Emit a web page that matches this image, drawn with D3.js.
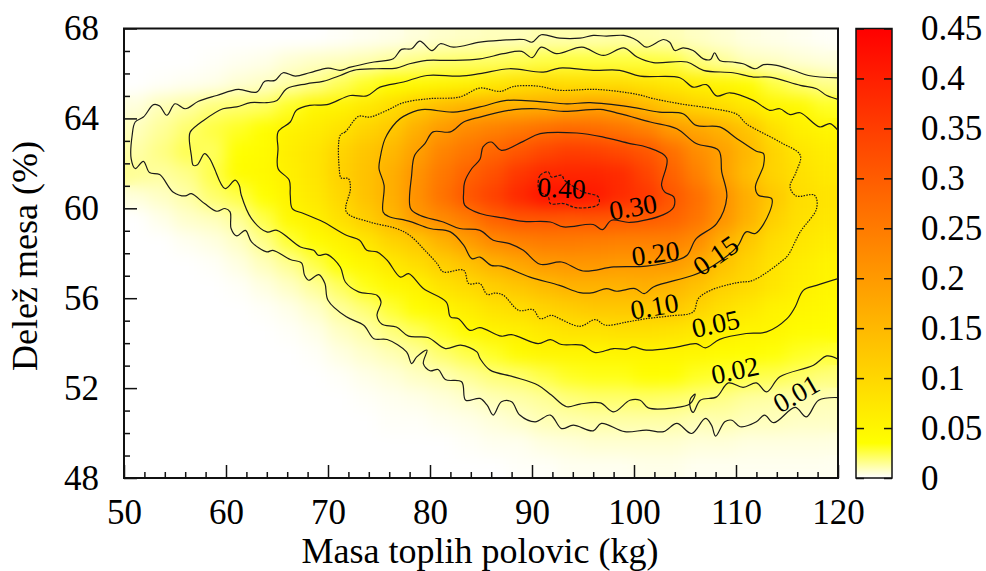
<!DOCTYPE html>
<html>
<head>
<meta charset="utf-8">
<script src="https://cdn.jsdelivr.net/npm/d3@7"></script>
<style>
	html, body { margin: 0; padding: 0; background: #fff; }
	text { font-family: "Liberation Serif", serif; fill: #000; }
	.domain { display: none; }
	.tick line { stroke: #111; stroke-width: 1.5; }
</style>
</head>
<body>
<div id="chart-area"></div>
<script>
// x and y ticks
var massTicks = [50, 60, 70, 80, 90, 100, 110, 120];
var massMinorTicks = [52, 54, 56, 58, 62, 64, 66, 68, 72, 74, 76, 78, 82, 84, 86, 88, 92, 94, 96, 98, 102, 104, 106, 108, 112, 114, 116, 118];
var shareTicks = [48, 52, 56, 60, 64, 68];
var shareMinorTicks = [49, 50, 51, 53, 54, 55, 57, 58, 59, 61, 62, 63, 65, 66, 67];
var densityTicks = [0, 0.05, 0.1, 0.15, 0.2, 0.25, 0.3, 0.35, 0.4, 0.45];

// heatmap, columns are 2.5 kg wide, rows 1 % high
var massCells = [51.25, 53.75, 56.25, 58.75, 61.25, 63.75, 66.25, 68.75, 71.25, 73.75, 76.25, 78.75, 81.25, 83.75, 86.25, 88.75, 91.25, 93.75, 96.25, 98.75, 101.25, 103.75, 106.25, 108.75, 111.25, 113.75, 116.25, 118.75];
var shareCells = [67.5, 66.5, 65.5, 64.5, 63.5, 62.5, 61.5, 60.5, 59.5, 58.5, 57.5, 56.5, 55.5, 54.5, 53.5, 52.5, 51.5, 50.5, 49.5, 48.5];
var density = [
	[0, 0, 0, 0, 0, 0, 0, 0, .001, .002, .003, .005, .007, .008, .009, .009, .011, .011, .011, .012, .011, .01, .008, .006, .004, .003, .002, .001],
	[0, 0, 0, .001, .002, .003, .006, .008, .009, .011, .014, .017, .02, .021, .022, .024, .026, .027, .027, .027, .027, .026, .018, .014, .009, .008, .006, .005],
	[0, .001, .002, .003, .006, .008, .012, .016, .023, .03, .038, .044, .05, .056, .07, .085, .095, .09, .09, .09, .08, .07, .06, .05, .04, .026, .02, .016],
	[.005, .01, .013, .018, .02, .022, .03, .048, .055, .07, .09, .12, .145, .16, .165, .165, .17, .18, .19, .18, .15, .125, .105, .09, .07, .05, .045, .03],
	[.009, .014, .02, .026, .03, .036, .055, .065, .08, .105, .125, .165, .2, .225, .24, .255, .27, .28, .275, .26, .24, .2, .18, .16, .13, .085, .06, .052],
	[.012, .017, .024, .022, .035, .042, .062, .075, .105, .13, .15, .19, .235, .26, .285, .31, .335, .35, .345, .33, .31, .27, .22, .19, .15, .105, .078, .065],
	[.015, .013, .016, .025, .04, .045, .06, .075, .11, .135, .165, .21, .255, .29, .32, .36, .385, .39, .39, .38, .34, .29, .24, .19, .14, .105, .085, .07],
	[.005, .008, .012, .02, .025, .035, .055, .07, .1, .135, .165, .215, .265, .31, .345, .385, .42, .42, .41, .38, .36, .31, .27, .215, .165, .125, .09, .08],
	[0, .003, .007, .009, .014, .025, .045, .06, .085, .115, .15, .2, .225, .25, .29, .31, .31, .305, .31, .305, .3, .29, .26, .21, .16, .11, .085, .075],
	[0, 0, .002, .004, .008, .016, .028, .04, .055, .075, .105, .125, .16, .195, .225, .24, .25, .25, .245, .24, .24, .24, .22, .165, .125, .09, .075, .065],
	[0, 0, 0, .001, .004, .009, .015, .025, .035, .05, .07, .09, .115, .135, .16, .18, .2, .205, .205, .2, .2, .2, .175, .135, .105, .08, .065, .055],
	[0, 0, 0, 0, .001, .004, .008, .014, .022, .032, .045, .055, .08, .095, .115, .13, .145, .16, .16, .16, .165, .155, .135, .11, .095, .075, .06, .052],
	[0, 0, 0, 0, 0, .001, .003, .007, .014, .019, .028, .038, .05, .065, .08, .09, .105, .115, .125, .125, .125, .125, .105, .085, .07, .055, .05, .045],
	[0, 0, 0, 0, 0, 0, .001, .003, .008, .012, .018, .023, .03, .042, .055, .06, .07, .08, .08, .085, .085, .08, .07, .06, .052, .05, .04, .038],
	[0, 0, 0, 0, 0, 0, 0, .001, .004, .007, .01, .014, .02, .025, .03, .042, .05, .05, .05, .05, .05, .05, .048, .04, .038, .034, .03, .028],
	[0, 0, 0, 0, 0, 0, 0, 0, .001, .003, .005, .008, .01, .014, .018, .02, .025, .03, .032, .032, .036, .035, .03, .028, .025, .024, .021, .018],
	[0, 0, 0, 0, 0, 0, 0, 0, 0, .001, .002, .003, .005, .007, .01, .012, .014, .018, .02, .02, .021, .02, .018, .016, .013, .012, .011, .01],
	[0, 0, 0, 0, 0, 0, 0, 0, 0, 0, .001, .001, .002, .003, .005, .007, .01, .011, .012, .012, .012, .012, .01, .011, .009, .009, .008, .008],
	[0, 0, 0, 0, 0, 0, 0, 0, 0, 0, 0, 0, 0, .001, .002, .002, .004, .005, .006, .006, .006, .006, .005, .005, .004, .004, .004, .004],
	[0, 0, 0, 0, 0, 0, 0, 0, 0, 0, 0, 0, 0, 0, 0, .001, .001, .002, .002, .002, .003, .003, .002, .002, .002, .002, .002, .002]
];

// contour lines as [mass, share]
var contour01 = [[120,65.8],[117.1,65.91],[115.6,66.14],[114,66.36],[112.7,66.39],[111.9,66.21],[110.7,66.43],[109.7,66.51],[108.4,66.58],[107.9,66.92],[107.5,66.62],[106.8,66.65],[105.8,67.02],[104.8,67.14],[104,67.02],[103.5,67.39],[102.9,67.51],[101.2,67.17],[100.3,67.47],[99,67.69],[97.3,67.66],[96,67.69],[94.7,67.57],[92.7,67.57],[90.9,67.72],[90,67.39],[89.2,67.51],[86.9,67.47],[84.9,67.39],[82.3,67.17],[81,67.32],[80.2,67.02],[79,67.44],[78.2,67.1],[77.2,67.07],[76.4,66.65],[74.5,66.51],[72.2,66.28],[71.2,66.14],[70,66.24],[68.2,66.03],[66.8,65.88],[65.6,66.03],[64.8,65.69],[63.8,65.65],[63,65.17],[61.2,65.29],[59.1,65.02],[57.3,64.76],[56,64.43],[55,64.65],[54.2,64.14],[53.5,64.55],[52.9,64.61],[51.9,64.06],[51.1,63.84],[50.8,63.25],[50.7,62.21],[51.1,61.77],[51.9,62.09],[52.5,61.59],[53.5,61.5],[54.8,60.73],[56,60.55],[56.6,60.65],[57.9,60.21],[59.1,59.87],[59.9,59.99],[60.4,59.84],[60.5,59.1],[61.05,58.77],[61.9,59.02],[62.5,58.51],[64,58.06],[64.6,58.13],[66.3,57.72],[67.4,57.57],[67.7,57.02],[68.1,56.8],[69.1,57.05],[69.7,56.65],[70,55.91],[71.8,55.17],[73.5,54.8],[74.5,54.2],[75.8,54.16],[77.7,53.61],[78.2,53.09],[78.7,53.39],[79.7,53.69],[79.35,53.09],[80,52.77],[80.8,52.83],[81.5,52.38],[83.1,52.28],[83.5,51.46],[84.9,51.54],[85.6,51.24],[86.2,50.8],[87,51.39],[88,51.39],[88.8,50.8],[90.3,50.5],[91.8,50.8],[92.9,50.2],[94.05,50.35],[96,50.1],[96.8,50.43],[99.1,50.06],[101.2,50.13],[102.9,50.06],[104.2,50.43],[105.65,49.98],[107,50.65],[107.6,50.35],[108,49.86],[108.9,50.5],[109.6,50.57],[110.4,50.28],[112,50.5],[112.8,50.8],[113.7,50.46],[115.8,51.14],[116.9,50.72],[118.1,51.46],[120,51.58]];
var contour02 = [[120,64.85],[118.9,65.02],[117.9,65.32],[116.3,65.47],[113.3,65.84],[111.7,65.84],[109.7,66.03],[106.8,66.14],[105.2,66.51],[101.9,66.48],[100.3,66.73],[99,67.14],[97,66.8],[94.9,67.17],[92.4,66.88],[90.9,67.17],[90,66.7],[89,66.98],[87.2,66.88],[84.9,66.65],[82,66.58],[79.7,66.58],[78,66.43],[76.7,66.24],[74.8,66.21],[72.5,66.14],[71.2,65.91],[69.5,65.65],[67.9,65.54],[65.95,65.32],[65,64.8],[64,64.7],[62.4,64.7],[61.05,64.51],[59.7,64.43],[57.8,63.91],[56.5,63.4],[56.4,63.1],[56.6,62.36],[56.8,61.91],[57.2,61.94],[57.9,62.43],[58.4,62.21],[58.8,61.84],[59.9,60.88],[60.9,61.25],[61.3,61.02],[61.5,60.58],[62.5,59.54],[64,58.95],[65,59.02],[67.3,58.28],[68.6,58.13],[69.05,57.91],[69.9,57.95],[71.2,57.39],[71.7,56.72],[73,56.28],[74.8,56.13],[75.2,55.83],[74.8,55.24],[75.3,54.84],[76.7,54.72],[77.9,54.31],[79.8,54.25],[81.5,53.76],[83,53.91],[84.6,53.61],[84.9,53.32],[85.9,52.8],[88.2,52.5],[90.6,52.13],[91.9,51.69],[93.4,51.17],[94.7,51.29],[96.7,51.34],[98,50.94],[99.6,51.46],[100.6,51.46],[101.4,51.12],[103.9,51.12],[105.5,51.3],[106,51.73],[105.55,51.54],[105.5,51.17],[105.8,50.92],[106.5,51.46],[108.1,51.61],[109.25,52.23],[110.7,52.03],[112,52.23],[113,51.83],[114.3,52.5],[117.6,53.02],[118.9,53.43],[120,53.29]];
var contour05 = [[120,63.47],[119.2,63.77],[118.2,63.62],[116.3,64.25],[115.3,64.17],[114.3,64.43],[113.3,64.36],[111.7,64.8],[109.4,65.14],[108.1,65],[107.1,65.5],[105.8,65.39],[104.5,65.81],[100.6,65.88],[98.6,66.14],[96,66.14],[92.7,66.24],[91.1,66.06],[87.8,66.21],[84.9,65.99],[82.9,65.88],[79.7,65.91],[77.4,65.62],[75.1,65.39],[73.8,65],[72.2,65.02],[69.9,64.61],[68.2,64.58],[66.9,64.36],[66.3,63.84],[65.1,63.4],[65.1,62.65],[65.1,61.77],[66.2,61.25],[66.3,60.58],[66.5,59.99],[67.6,59.77],[69.5,59.4],[71.8,58.8],[73.1,58.58],[73.8,58.13],[74.8,58.06],[75.8,57.69],[77.1,56.94],[77.9,57.09],[79.35,56.43],[81.6,55.83],[82,55.17],[82.8,55.09],[83.9,54.57],[84.9,54.69],[87,54.31],[88,54.38],[90.6,53.98],[91.8,54.16],[92.9,53.94],[94.9,53.91],[96.2,53.58],[98,53.76],[99.3,53.73],[99.9,53.83],[101.2,53.69],[103.9,53.8],[106.1,53.98],[107,53.79],[108.4,54.17],[111,54.43],[113,54.5],[115,55.09],[115.8,55.61],[116.6,56.35],[117.9,56.57],[120,56.87]];
var contour10 = [[71.2,63.25],[71.7,63.4],[73,64.09],[74.1,64.06],[75.8,64.36],[77.4,64.7],[80,64.88],[82.9,64.95],[84.9,65.35],[86.9,65.2],[88.2,65.42],[90.5,65.44],[92.7,65.25],[96.3,65.29],[100.3,65.07],[101.9,64.88],[104.5,64.65],[107.8,64.43],[110.1,64.18],[111,63.77],[114.3,62.95],[116.3,62.36],[115.9,61.62],[115.3,60.95],[115.9,60.55],[117.7,60.58],[117.9,59.99],[116.3,58.95],[115.1,57.91],[114.6,57.69],[111.7,56.8],[110.1,56.69],[107.5,56.35],[106.3,55.98],[105.8,55.39],[103.5,55.21],[101.2,55.09],[99.3,54.94],[97.2,54.8],[96.2,55.05],[94.7,54.75],[92.7,55.09],[91.9,55.24],[90.8,55.09],[90.1,55.49],[88.7,55.46],[87.2,56.13],[86.4,56.23],[85.6,56.17],[84.9,56.65],[83.8,56.65],[83.3,57.24],[81.3,57.17],[80.7,57.54],[79.5,58.13],[78,58.8],[76.7,59.1],[74.1,59.39],[71.8,59.84],[72.2,60.88],[72,61.32],[71.3,61.35],[71.1,61.77]];
var contour15 = [[75.1,62.21],[75.6,63.1],[76.7,63.84],[77.4,64.09],[79.2,64.39],[82.3,64.28],[84.9,64.51],[87.5,64.8],[90.5,64.76],[93.4,64.65],[95.7,64.7],[99.6,64.51],[102.5,64.28],[104.8,64.21],[106.1,63.69],[108.4,63.62],[110.1,63.1],[112,62.54],[112.7,62.43],[112.7,61.91],[111.9,60.95],[112.2,60.58],[113.5,60.43],[113.3,59.84],[111.9,58.88],[111,58.95],[110.1,58.28],[107.8,57.46],[105.8,57.02],[101.9,56.5],[101,56.2],[100.1,56.43],[98.3,56.31],[97.3,56.43],[96,56.25],[94.7,56.25],[92.7,56.57],[89.8,56.94],[87,57.43],[86,57.46],[84.9,57.83],[84.1,57.76],[83.3,58.36],[82,58.95],[80,59.1],[78,59.42],[75.9,59.65],[75.4,59.84],[75.5,61.02],[75,61.77]];
var contour20 = [[78.2,61.47],[78.5,62.36],[79.5,62.88],[80.3,63.4],[82,63.4],[83.3,63.84],[84.9,64.06],[88.2,64.39],[90.5,64.43],[93.1,64.31],[96.7,64.4],[98.6,64.21],[101.6,63.84],[104.2,63.54],[106.1,62.88],[108.3,62.58],[108.6,61.62],[109.1,60.51],[108.1,59.32],[106.1,58.65],[105.2,57.91],[104.2,57.69],[101.2,57.43],[98,57.39],[95,57.21],[92.9,57.61],[90.8,57.51],[89.15,58.13],[87.8,58.43],[86.2,58.58],[84.9,59.02],[82.9,59.1],[81.3,59.39],[79,59.69],[78.1,59.99]];
var contour30 = [[83.4,61.17],[84.1,61.77],[84.9,62.18],[85.2,62.73],[86,62.95],[87,62.58],[89.15,62.98],[90.8,63.32],[94.4,63.35],[97,63.17],[99.6,62.88],[101.2,62.73],[103.2,62.24],[102.7,61.02],[103,60.73],[103.9,60.51],[103.9,60.06],[102.9,59.72],[99.6,59.37],[97.8,59.47],[96.9,59.05],[96,59.28],[93.1,59.17],[91.8,59.39],[89.15,59.42],[87.2,59.57],[84.9,59.77],[83.4,60.14],[83.3,60.73]];
var contour40 = [[90.6,61.02],[90.8,61.47],[91.6,61.62],[91.9,61.39],[92.9,61.47],[93.2,61.25],[95,60.73],[96.5,60.51],[96.5,60.17],[94.4,60.02],[93.1,60.21],[91.8,60.21],[91.6,60.51],[90.8,60.73]];

// label text, then where it sits on the chart
var contourLabels = ["0.40", "0.30", "0.20", "0.15", "0.10", "0.05", "0.02", "0.01"];
var labelMass = [92.9, 99.9, 102.1, 108, 102, 108, 109.9, 115.9];
var labelShare = [60.9, 60.06, 58, 57.9, 55.64, 54.87, 52.8, 51.76];
var labelAngle = [3, -10, -8, -35, -10, -12, -12, -30];

var margin = { top: 28.5, right: 148, bottom: 93, left: 124 };
var width = 986 - margin.left - margin.right;
var height = 571 - margin.top - margin.bottom;

var svg = d3.select("#chart-area")
	.append("svg")
	.attr("width", 986)
	.attr("height", 571)
	.style("display", "block");

var defs = svg.append("defs");

defs.append("clipPath")
	.attr("id", "plot-clip")
	.append("rect")
	.attr("width", width)
	.attr("height", height);

var blur = defs.append("filter")
	.attr("id", "smooth")
	.attr("filterUnits", "userSpaceOnUse")
	.attr("x", -40).attr("y", -40)
	.attr("width", width + 80).attr("height", height + 80)
	.attr("color-interpolation-filters", "sRGB");
blur.append("feGaussianBlur").attr("stdDeviation", 8);

var g = svg.append("g")
	.attr("transform", "translate(" + margin.left + "," + margin.top + ")");

var x = d3.scaleLinear().domain([50, 120]).range([0, width]);
var y = d3.scaleLinear().domain([48, 68]).range([height, 0]);

var color = d3.scaleLinear()
	.domain([0, 0.035, 0.45])
	.range(["#ffffff", "#ffff00", "#ff0000"]);

var cols = d3.scaleBand().domain(massCells).range([0, width]);
var rows = d3.scaleBand().domain(shareCells).range([0, height]);

var cells = [];
density.forEach(function(row, r) {
	row.forEach(function(v, c) {
		cells.push({ mass: massCells[c], share: shareCells[r], value: v });
	});
});

var heat = g.append("g").attr("clip-path", "url(#plot-clip)");

// plain cells underneath keep the colour right up to the frame, the blurred copy smooths them
function drawCells(parent) {
	parent.selectAll("rect")
		.data(cells)
		.enter()
		.append("rect")
		.attr("x", function(d) { return cols(d.mass) - 0.5; })
		.attr("y", function(d) { return rows(d.share) - 0.5; })
		.attr("width", cols.bandwidth() + 1)
		.attr("height", rows.bandwidth() + 1)
		.attr("fill", function(d) { return color(d.value); });
}
drawCells(heat.append("g"));
drawCells(heat.append("g").attr("filter", "url(#smooth)"));

// contours
var openLine = d3.line()
	.x(function(d) { return x(d[0]); })
	.y(function(d) { return y(d[1]); })
	.curve(d3.curveCatmullRom.alpha(0.5));
var closedLine = d3.line()
	.x(function(d) { return x(d[0]); })
	.y(function(d) { return y(d[1]); })
	.curve(d3.curveCatmullRomClosed.alpha(0.5));

var lines = g.append("g")
	.attr("clip-path", "url(#plot-clip)")
	.attr("fill", "none")
	.attr("stroke", "#1a1a1a")
	.attr("stroke-width", 1.2);

[contour01, contour02, contour05].forEach(function(c) {
	lines.append("path").attr("d", openLine(c));
});
[contour15, contour20, contour30].forEach(function(c) {
	lines.append("path").attr("d", closedLine(c));
});
lines.append("path").attr("d", closedLine(contour10)).attr("stroke-dasharray", "1.5 1.2");
lines.append("path").attr("d", closedLine(contour40)).attr("stroke-dasharray", "3 1.5");

g.selectAll(".contour-label")
	.data(contourLabels)
	.enter()
	.append("text")
	.attr("class", "contour-label")
	.attr("text-anchor", "middle")
	.attr("dominant-baseline", "central")
	.style("font-size", "27.5px")
	.attr("transform", function(d, i) {
		return "translate(" + x(labelMass[i]) + "," + y(labelShare[i]) + ") rotate(" + labelAngle[i] + ")";
	})
	.text(function(d) { return d; });

// axes
function styleAxis(sel) {
	sel.selectAll("text").style("font-size", "35px");
}

g.append("g")
	.attr("transform", "translate(0," + height + ")")
	.call(d3.axisBottom(x).tickValues(massMinorTicks).tickSize(-6).tickFormat(""));
g.append("g")
	.attr("transform", "translate(0," + height + ")")
	.call(d3.axisBottom(x).tickValues(massTicks).tickSizeInner(-13).tickSizeOuter(0).tickPadding(21))
	.call(styleAxis);
g.append("g")
	.call(d3.axisLeft(y).tickValues(shareMinorTicks).tickSize(-6).tickFormat(""));
g.append("g")
	.call(d3.axisLeft(y).tickValues(shareTicks).tickSizeInner(-13).tickSizeOuter(0).tickPadding(25))
	.call(styleAxis);

g.append("rect")
	.attr("width", width)
	.attr("height", height)
	.attr("fill", "none")
	.attr("stroke", "#111")
	.attr("stroke-width", 2);

g.append("text")
	.attr("x", width / 2 - 1)
	.attr("y", 563 - margin.top)
	.attr("text-anchor", "middle")
	.style("font-size", "36px")
	.text("Masa toplih polovic (kg)");

svg.append("text")
	.attr("transform", "translate(37,256) rotate(-90)")
	.attr("text-anchor", "middle")
	.style("font-size", "36px")
	.text("Delež mesa (%)");

// colour bar
var barWidth = 36;
var bar = svg.append("g")
	.attr("transform", "translate(856," + margin.top + ")");

var gradient = defs.append("linearGradient")
	.attr("id", "bar-gradient")
	.attr("x1", 0).attr("y1", 1)
	.attr("x2", 0).attr("y2", 0);
gradient.selectAll("stop")
	.data(color.domain())
	.enter()
	.append("stop")
	.attr("offset", function(d) { return d / 0.45; })
	.attr("stop-color", function(d) { return color(d); });

var barScale = d3.scaleLinear().domain([0, 0.45]).range([height, 0]);

bar.append("rect")
	.attr("width", barWidth)
	.attr("height", height)
	.attr("fill", "url(#bar-gradient)");

bar.append("g")
	.call(d3.axisLeft(barScale).tickValues(densityTicks).tickSize(-8).tickFormat(""));
bar.append("g")
	.attr("transform", "translate(" + barWidth + ",0)")
	.call(d3.axisRight(barScale).tickValues(densityTicks).tickSizeInner(-8).tickSizeOuter(0).tickPadding(29).tickFormat(d3.format("")))
	.call(styleAxis);

bar.append("rect")
	.attr("width", barWidth)
	.attr("height", height)
	.attr("fill", "none")
	.attr("stroke", "#111")
	.attr("stroke-width", 1.5);
</script>
</body>
</html>
